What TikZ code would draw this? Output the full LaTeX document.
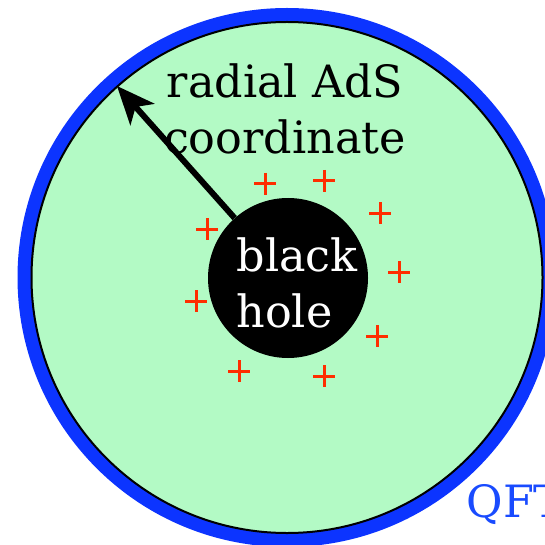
\documentclass[tikz,border=0pt]{standalone}
\usepackage{fontspec}
\setmainfont{DejaVu Serif}
\usetikzlibrary{arrows.meta}
\definecolor{ringblue}{RGB}{12,52,255}
\definecolor{bulkgreen}{RGB}{179,250,197}
\definecolor{plusred}{RGB}{255,45,0}
\definecolor{qftblue}{RGB}{25,75,255}
\tikzset{
  bigtext/.style={font=\fontsize{44.5}{56}\selectfont},
  plusmark/.style={minimum size=22pt, inner sep=0pt,
    path picture={\draw[plusred, line width=3pt]
      (path picture bounding box.north) -- (path picture bounding box.south)
      (path picture bounding box.west) -- (path picture bounding box.east);}},
}
\begin{document}
\begin{tikzpicture}[x=1pt,y=-1pt]
\useasboundingbox (0,0) rectangle (544,545);
\coordinate (c) at (287,277.5);
\draw[ringblue, line width=14pt] (c) circle[radius=262.5];
\draw[fill=bulkgreen, line width=2pt] (c) circle[radius=255.5];
\node[circle, fill=black, minimum size=160pt, inner sep=0pt] (bh) at (288,278) {};
\node[bigtext, text=white, align=left, anchor=base west] (bhtext) at (233,327) {black\\hole};
\coordinate (tip) at (117,86);
\draw[line width=6pt, -{Stealth[length=38pt,width=32pt,inset=10pt]}] (bh) -- (tip);
\node[bigtext, align=center, anchor=base] (lbl) at (285,154) {radial AdS\\coordinate};
\node[bigtext, text=qftblue, anchor=base west] (qft) at (463,517) {QFT};
\node[plusmark] (p1) at (265,184) {};
\node[plusmark] (p2) at (324,181) {};
\node[plusmark] (p3) at (380,213) {};
\node[plusmark] (p4) at (207,229) {};
\node[plusmark] (p5) at (399,272) {};
\node[plusmark] (p6) at (196,301) {};
\node[plusmark] (p7) at (377,336) {};
\node[plusmark] (p8) at (239,371) {};
\node[plusmark] (p9) at (324,376) {};
\end{tikzpicture}
\end{document}
